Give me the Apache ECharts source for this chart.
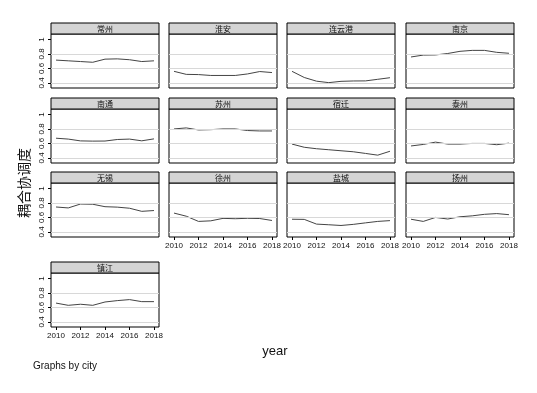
<!DOCTYPE html>
<html>
<head>
<meta charset="utf-8">
<script src="https://cdn.jsdelivr.net/npm/echarts@6/dist/echarts.min.js"></script>
<style>html,body{margin:0;padding:0;background:#fff;}#c{width:537px;height:393px;}</style>
</head>
<body>
<div id="c"></div>
<script>
const cities = ['常州','淮安','连云港','南京','南通','苏州','宿迁','泰州','无锡','徐州','盐城','扬州','镇江'];
const years = [2010, 2011, 2012, 2013, 2014, 2015, 2016, 2017, 2018];
const xTicks = [2010, 2012, 2014, 2016, 2018];
const yTicks = [0.4, 0.6, 0.8, 1];
const gridValues = [0.4, 0.6, 0.8];

const changzhou   = [0.715, 0.705, 0.695, 0.685, 0.728, 0.732, 0.720, 0.695, 0.705];
const huaian      = [0.560, 0.518, 0.515, 0.503, 0.503, 0.503, 0.524, 0.557, 0.543];
const lianyungang = [0.560, 0.475, 0.424, 0.404, 0.422, 0.427, 0.428, 0.450, 0.472];
const nanjing     = [0.758, 0.784, 0.786, 0.806, 0.836, 0.849, 0.849, 0.822, 0.809];
const nantong     = [0.672, 0.660, 0.635, 0.632, 0.633, 0.654, 0.660, 0.636, 0.663];
const suzhou      = [0.800, 0.814, 0.786, 0.790, 0.800, 0.800, 0.778, 0.772, 0.772];
const suqian      = [0.591, 0.547, 0.527, 0.513, 0.499, 0.485, 0.462, 0.438, 0.492];
const taizhou     = [0.565, 0.586, 0.618, 0.591, 0.591, 0.600, 0.600, 0.582, 0.604];
const wuxi        = [0.744, 0.731, 0.785, 0.782, 0.748, 0.742, 0.727, 0.684, 0.695];
const xuzhou      = [0.660, 0.617, 0.545, 0.553, 0.587, 0.582, 0.588, 0.585, 0.558];
const yancheng    = [0.575, 0.573, 0.508, 0.499, 0.489, 0.504, 0.525, 0.545, 0.556];
const yangzhou    = [0.575, 0.545, 0.600, 0.578, 0.609, 0.622, 0.643, 0.653, 0.638];
const zhenjiang   = [0.660, 0.629, 0.644, 0.629, 0.675, 0.694, 0.708, 0.680, 0.680];

const seriesValues = [changzhou, huaian, lianyungang, nanjing, nantong, suzhou, suqian,
                      taizhou, wuxi, xuzhou, yancheng, yangzhou, zhenjiang];

// layout
const colLefts = [51, 169, 287, 406];
const rowTops = [34, 109, 183, 273];
const pw = 108, ph = 54, hh = 11;
const FONT = '"Liberation Sans", Arial, sans-serif';
const CJK = '"Noto Sans CJK SC", sans-serif';

const grids = [], xAxes = [], yAxes = [], series = [], graphics = [];
cities.forEach((name, i) => {
  const col = i % 4, row = Math.floor(i / 4);
  const left = colLefts[col], top = rowTops[row];
  const showX = (i >= 9) || i === 12;
  const showY = col === 0;
  grids.push({left: left, top: top, width: pw, height: ph, show: true,
              borderColor: '#000', borderWidth: 1, backgroundColor: '#fff', containLabel: false});
  xAxes.push({type: 'value', gridIndex: i, min: 2009.59, max: 2018.41,
    axisLine: {show: false}, splitLine: {show: false},
    axisTick: {show: showX, customValues: xTicks, length: 3, lineStyle: {color: '#000'}},
    axisLabel: {show: showX, customValues: xTicks, margin: 5, fontSize: 8, color: '#111', fontFamily: FONT,
                formatter: v => String(Math.round(v))}});
  yAxes.push({type: 'value', gridIndex: i, min: 0.33, max: 1.075,
    axisLine: {show: false}, splitLine: {show: false},
    axisTick: {show: showY, customValues: yTicks, length: 3, lineStyle: {color: '#000'}},
    axisLabel: {show: showY, customValues: yTicks, rotate: 90, margin: 5, fontSize: 8, color: '#111', fontFamily: FONT,
                formatter: v => String(v)}});
  series.push({type: 'line', xAxisIndex: i, yAxisIndex: i, symbol: 'none', silent: true,
    lineStyle: {color: '#444', width: 1}, z: 3,
    data: years.map((y, k) => [y, seriesValues[i][k]]),
    markLine: {silent: true, symbol: 'none', label: {show: false}, animation: false,
      lineStyle: {color: '#d8d8d8', type: 'solid', width: 1},
      data: gridValues.map(v => ({yAxis: v}))}});
  graphics.push({type: 'rect', shape: {x: left, y: top - hh, width: pw, height: hh},
    style: {fill: '#d4d4d4', stroke: '#000', lineWidth: 1}});
  graphics.push({type: 'text', x: left + pw / 2, y: top - hh / 2,
    style: {text: name, fill: '#111', font: '8px ' + CJK, align: 'center', verticalAlign: 'middle'}});
});

graphics.push({type: 'text', x: 24, y: 183, rotation: Math.PI / 2,
  style: {text: '耦合协调度', fill: '#111', font: '14px ' + CJK, align: 'center', verticalAlign: 'middle'}});
graphics.push({type: 'text', x: 275, y: 351,
  style: {text: 'year', fill: '#111', font: '13px ' + FONT, align: 'center', verticalAlign: 'middle'}});
graphics.push({type: 'text', x: 33, y: 366,
  style: {text: 'Graphs by city', fill: '#111', font: '10px ' + FONT, align: 'left', verticalAlign: 'middle'}});

const chart = echarts.init(document.getElementById('c'), null, {renderer: 'canvas'});
chart.setOption({
  animation: false,
  backgroundColor: '#fff',
  grid: grids, xAxis: xAxes, yAxis: yAxes, series: series,
  graphic: {elements: graphics}
});
</script>
</body>
</html>
